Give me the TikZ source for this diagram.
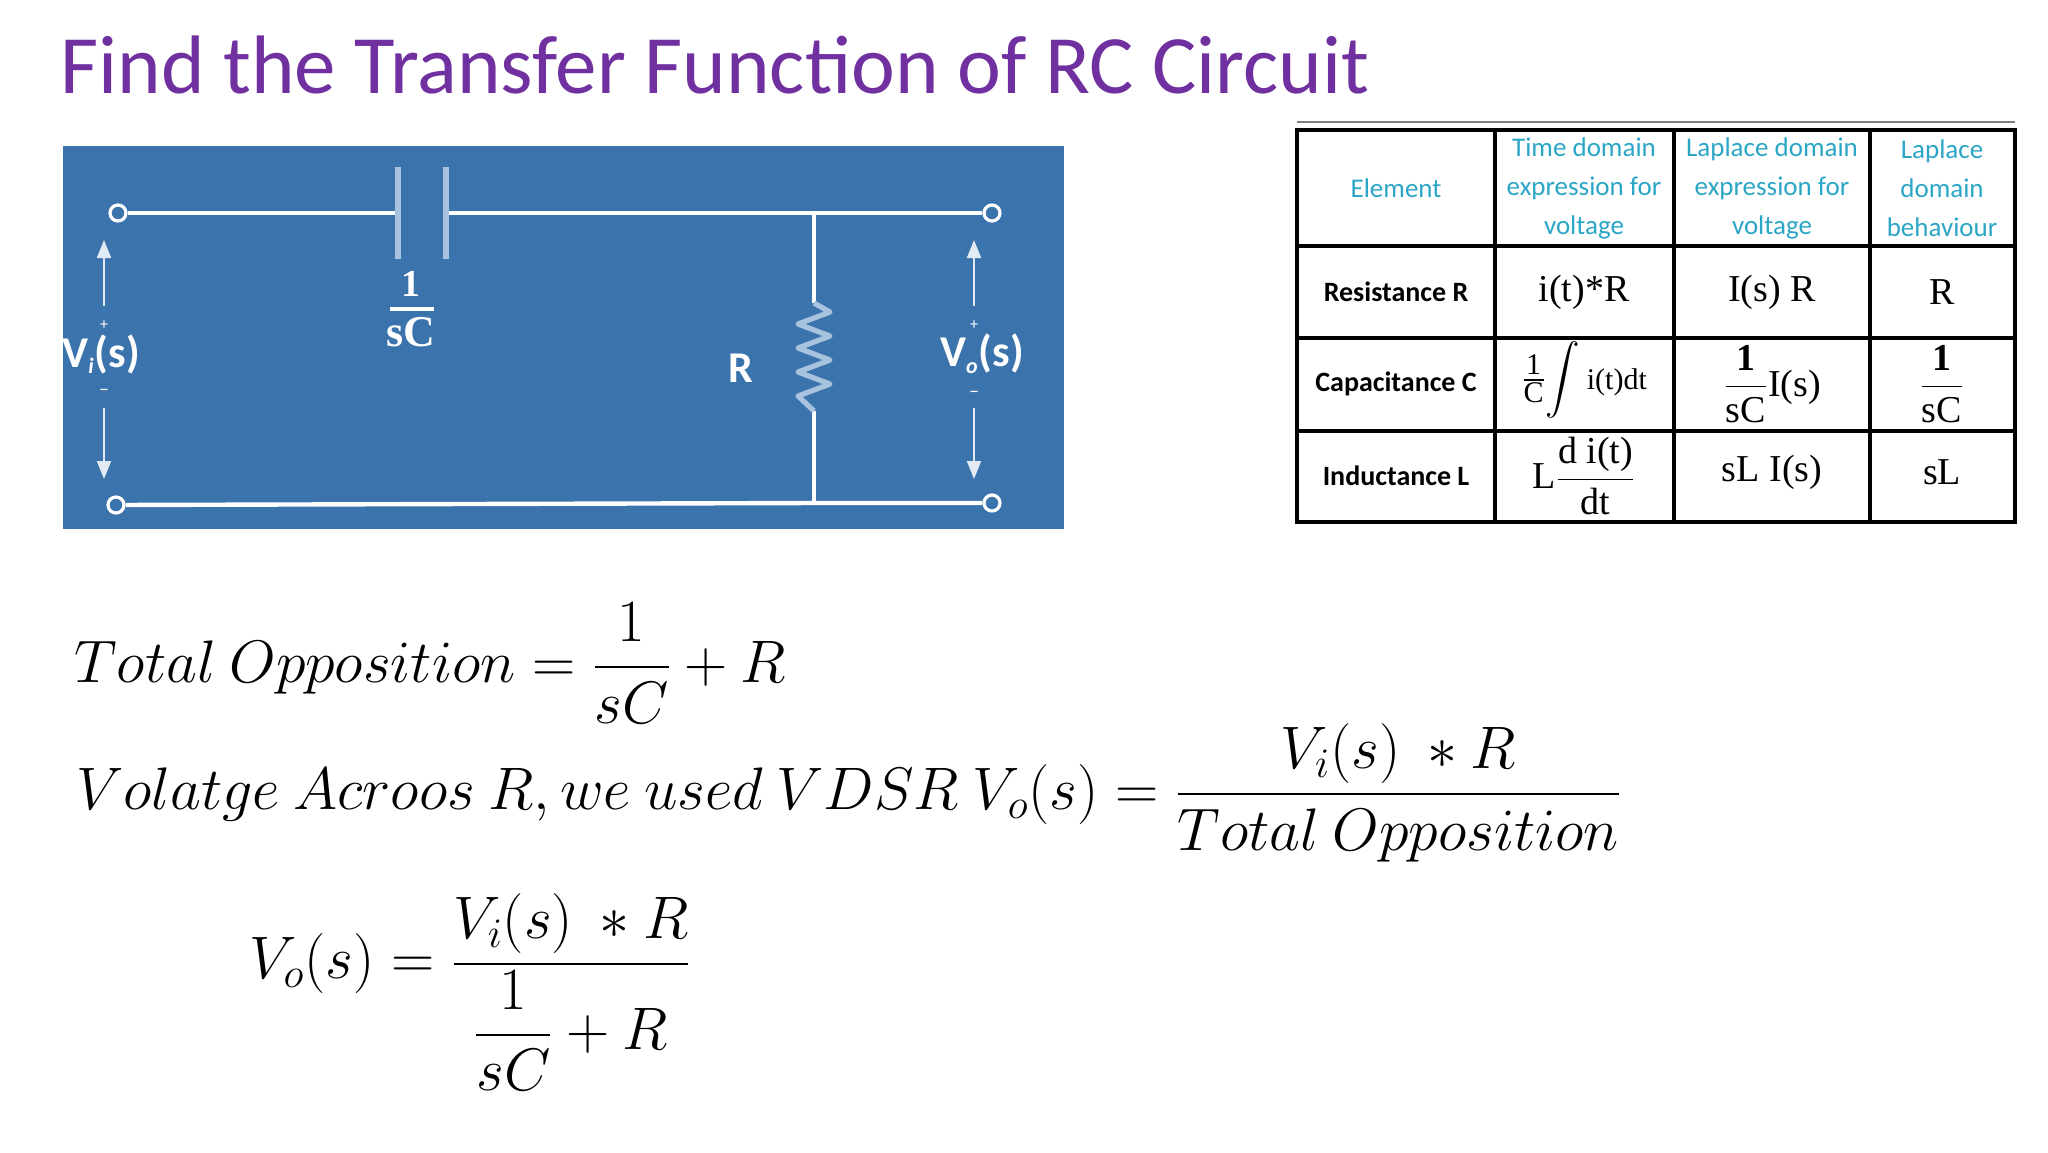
\RequirePackage{fix-cm}
\documentclass[tikz,border=0pt]{standalone}
\usepackage{amsmath}
\usepackage{fontspec}
\setmainfont{Carlito}
\newfontfamily\ser{Liberation Serif}
\usetikzlibrary{arrows.meta}
\definecolor{ttl}{HTML}{7030A0}
\definecolor{cbg}{HTML}{3B73AD}
\definecolor{plate}{HTML}{A8C3DE}
\definecolor{hdr}{HTML}{2BA6C6}
\tikzset{
  wire/.style={white,line width=2.2pt},
  term/.style={circle,draw=white,fill=cbg,line width=1.6pt,minimum size=8pt,inner sep=0pt},
  varr/.style={white!85!cbg,line width=1pt,-{Triangle[length=9pt,width=7pt]}},
  ctext/.style={text=white,font=\bfseries\fontsize{22}{24}\selectfont},
  hd/.style={text=hdr,font=\fontsize{13.5}{19.5}\selectfont,align=center},
  el/.style={font=\bfseries\fontsize{14}{16}\selectfont},
  ex/.style={font=\ser\fontsize{19}{21}\selectfont},
  tline/.style={line width=1.6pt},
  eq/.style={anchor=west,font=\fontsize{30}{36}\selectfont,inner sep=0pt}
}
\begin{document}
\begin{tikzpicture}[x=0.5pt,y=-0.5pt]
\useasboundingbox (0,0) rectangle (2048,1152);
\fill[white] (0,0) rectangle (2048,1152);
% title
\node[anchor=west,text=ttl,font=\fontsize{41.5}{46}\selectfont,inner sep=0pt] (title) at (60,65) {Find the Transfer Function of RC Circuit};
% circuit
\fill[cbg] (63,146) rectangle (1064,529);
\node[term] (t1) at (118,213) {};
\node[term] (t2) at (992,213) {};
\node[term] (t3) at (116,505) {};
\node[term] (t4) at (992,503) {};
\coordinate (p1) at (398,213);
\coordinate (p2) at (446,213);
\coordinate (jt) at (814,213);
\coordinate (jb) at (814,503);
\coordinate (rt) at (814,303);
\coordinate (rb) at (814,411);
\draw[wire] (t1) -- (p1);
\draw[wire] (p2) -- (jt) -- (t2);
\draw[wire] (t3) -- (jb) -- (t4);
\draw[wire] (jt) -- (rt);
\draw[wire] (rb) -- (jb);
\draw[plate,line width=2.6pt] (398,167) -- (398,259);
\draw[plate,line width=2.6pt] (446,167) -- (446,259);
\draw[plate,line width=2.6pt,line join=round] (rt) -- (830,312) -- (798,324) -- (830,336) -- (798,348) -- (830,360) -- (798,372) -- (830,384) -- (798,396) -- (rb);
\node[text=white,font=\ser\bfseries\fontsize{19}{20}\selectfont] (one) at (411,284) {1};
\draw[white,line width=1.8pt] (390,309) -- (434,309);
\node[text=white,font=\ser\bfseries\fontsize{22}{22}\selectfont] (sc) at (411,332) {sC};
\node[ctext] (rlab) at (741,368) {R};
% input voltage
\coordinate (a1) at (104,306); \coordinate (a2) at (104,240);
\coordinate (a3) at (104,408); \coordinate (a4) at (104,479);
\draw[varr] (a1) -- (a2);
\draw[varr] (a3) -- (a4);
\node[text=white,font=\fontsize{8}{8}\selectfont] (pl1) at (104,325) {+};
\node[text=white,font=\fontsize{10}{10}\selectfont] (mi1) at (104,392) {\textendash};
\node[ctext,anchor=west,inner sep=0pt] (vi) at (62,354) {V\textsubscript{\fontsize{11}{11}\selectfont\itshape i}(s)};
% output voltage
\coordinate (b1) at (974,306); \coordinate (b2) at (974,240);
\coordinate (b3) at (974,408); \coordinate (b4) at (974,479);
\draw[varr] (b1) -- (b2);
\draw[varr] (b3) -- (b4);
\node[text=white,font=\fontsize{8}{8}\selectfont] (pl2) at (974,325) {+};
\node[text=white,font=\fontsize{10}{10}\selectfont] (mi2) at (974,394) {\textendash};
\node[ctext] (vo) at (982,354) {V\textsubscript{\fontsize{11}{11}\selectfont\itshape o}(s)};
% table
\draw[gray,line width=1pt] (1297,122) -- (2015,122);
\draw[line width=2.2pt] (1297,130) rectangle (2015,522);
\foreach \x in {1495,1674,1870} \draw[tline] (\x,130) -- (\x,522);
\foreach \y in {246,338,431} \draw[tline] (1297,\y) -- (2015,\y);
\node[hd] (h1) at (1396,188) {Element};
\node[hd] (h2) at (1584,188) {Time domain\\expression for\\voltage};
\node[hd] (h3) at (1772,188) {Laplace domain\\expression for\\voltage};
\node[hd] (h4) at (1942,188) {Laplace\\domain\\behaviour};
\node[el] (r1) at (1396,292) {Resistance R};
\node[el] (r2) at (1396,384) {Capacitance C};
\node[el] (r3) at (1396,476) {Inductance L};
\node[ex] (c11) at (1584,292) {i(t)*R};
\node[ex] (c12) at (1772,292) {I(s) R};
\node[ex] (c13) at (1942,292) {R};
\node[ex] (c21) at (1584,380) {$\frac{\hbox{\ser\fontsize{15}{15}\selectfont 1}}{\hbox{\ser\fontsize{15}{15}\selectfont C}}\!\displaystyle\int$\,{\fontsize{15}{15}\selectfont i(t)dt}};
\node[ex] (c22) at (1772,384) {$\dfrac{\hbox{\ser\bfseries 1}}{\hbox{\ser sC}}$I(s)};
\node[ex] (c23) at (1942,384) {$\dfrac{\hbox{\ser\bfseries 1}}{\hbox{\ser sC}}$};
\node[ex] (c31) at (1584,476) {L$\dfrac{\hbox{\ser d i(t)}}{\hbox{\ser dt}}$};
\node[ex] (c32) at (1772,472) {sL I(s)};
\node[ex] (c33) at (1942,472) {sL};
% equations
\node[eq] (e1) at (74,663) {$Total\ Opposition=\dfrac{1}{sC}+R$};
\node[eq] (e2) at (76,793) {$Volatge\ Acroos\ R,we\ used\ VDSR\ V_o(s)=\dfrac{V_i(s)\ \ast R}{Total\ Opposition}$};
\node[eq] (e3) at (249,992) {$V_o(s)=\dfrac{V_i(s)\ \ast R}{\dfrac{1}{sC}+R}$};
\end{tikzpicture}
\end{document}
